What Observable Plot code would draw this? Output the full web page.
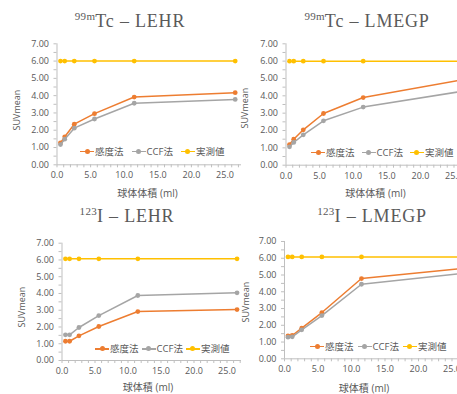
<!DOCTYPE html>
<html><head><meta charset="utf-8">
<script src="https://cdn.jsdelivr.net/npm/d3@7"></script>
<script src="https://cdn.jsdelivr.net/npm/@observablehq/plot@0.6"></script>
<style>
body{margin:0;background:#fff;}
#root{position:relative;width:457px;height:394px;overflow:hidden;background:#fff;font-family:"Open Sans","Noto Sans CJK JP",sans-serif;color:#595959;}
.clip{position:absolute;overflow:hidden;}
.clip svg{display:block;max-width:none !important;}
.title{position:absolute;font-family:"Liberation Serif","DejaVu Serif",serif;font-size:18px;line-height:18px;letter-spacing:0.8px;color:#5a5a5a;white-space:nowrap;transform:translateX(-50%);}
.title sup{font-size:11px;letter-spacing:0.3px;line-height:0;vertical-align:0;position:relative;top:-7px;}
.xt{position:absolute;font-size:10px;line-height:12px;transform:translate(-50%,-50%);white-space:nowrap;}
.yt{position:absolute;font-size:9px;line-height:10px;transform:translate(-50%,-50%) rotate(-90deg);white-space:nowrap;}
.leg{position:absolute;display:flex;align-items:center;font-size:9.5px;line-height:12px;white-space:nowrap;transform:translateY(-50%);font-family:"Open Sans","Noto Sans CJK JP",sans-serif;}
.m{display:inline-block;width:14px;height:1.5px;position:relative;margin-right:1px;}
.m i{position:absolute;left:4.5px;top:-1.8px;width:5px;height:5px;border-radius:50%;background:inherit;}
</style>
</head><body>
<div id="root"></div>
<script>
// ---- data ----
const volumes = [0.52, 1.15, 2.57, 5.58, 11.49, 26.52];
const seriesNames = ["感度法", "CCF法", "実測値"];
const seriesColors = ["#ED7D31", "#A5A5A5", "#FFC000"];
const xTicks = [0, 5, 10, 15, 20, 25];
const yTicks = [0, 1, 2, 3, 4, 5, 6, 7];

const tcLehrSens  = [1.27, 1.62, 2.35, 2.96, 3.92, 4.17];
const tcLehrCcf   = [1.17, 1.48, 2.12, 2.65, 3.56, 3.78];
const tcLehrMeas  = [6.00, 6.00, 6.00, 6.00, 6.00, 6.00];

const tcLmegpSens = [1.19, 1.50, 2.04, 2.98, 3.90, 4.95];
const tcLmegpCcf  = [1.06, 1.31, 1.75, 2.56, 3.35, 4.28];
const tcLmegpMeas = [6.00, 6.00, 6.00, 6.00, 6.00, 6.00];

const iLehrSens   = [1.15, 1.15, 1.47, 2.03, 2.92, 3.04];
const iLehrCcf    = [1.53, 1.53, 1.97, 2.68, 3.88, 4.04];
const iLehrMeas   = [6.07, 6.07, 6.07, 6.07, 6.07, 6.07];

const iLmegpSens  = [1.37, 1.39, 1.83, 2.76, 4.79, 5.39];
const iLmegpCcf   = [1.29, 1.31, 1.73, 2.58, 4.45, 5.10];
const iLmegpMeas  = [6.08, 6.08, 6.08, 6.08, 6.08, 6.08];

const titles = [
  {sup: "99m", main: "Tc – LEHR"},
  {sup: "99m", main: "Tc – LMEGP"},
  {sup: "123", main: "I – LEHR"},
  {sup: "123", main: "I – LMEGP"}
];
const xTitles = ["球体体積 (ml)", "球体体積 (ml)", "球体積 (ml)", "球体積 (ml)"];
const yTitle = "SUVmean";

// ---- layout ----
const root = document.getElementById("root");
const panels = [
  {values:[tcLehrSens, tcLehrCcf, tcLehrMeas], left:0, w:241, top:30, x0:56.5, ppu:6.72, y7:43.3, y0:164.3,
   title:[130,12], xt:[147.5,193], yt:[17,110], leg:[80,151.7], gap:8},
  {values:[tcLmegpSens, tcLmegpCcf, tcLmegpMeas], left:241, w:216, top:30, x0:285.5, ppu:6.72, y7:43.3, y0:164.7,
   title:[367,12], xt:[375.5,193], yt:[245,108], leg:[311,152.7], gap:7},
  {values:[iLehrSens, iLehrCcf, iLehrMeas], left:0, w:241, top:225, x0:61.5, ppu:6.6, y7:242.7, y0:360,
   title:[127,207], xt:[148,386.7], yt:[21.5,307], leg:[95,349], gap:3},
  {values:[iLmegpSens, iLmegpCcf, iLmegpMeas], left:241, w:216, top:225, x0:284, ppu:6.7, y7:241, y0:358.3,
   title:[372,207], xt:[364,388], yt:[246,302], leg:[310,346.7], gap:4}
];

const fontFam = '"Open Sans","Noto Sans CJK JP",sans-serif';

panels.forEach((p, k) => {
  const mt = p.y7 - p.top, ph = p.y0 - p.y7, ml = p.x0 - p.left, pw = 30 * p.ppu, mb = 24;
  const W = ml + pw + 10, H = mt + ph + mb;
  const marks = [
    Plot.axisX({ticks: d3.range(0, 31, 1), tickSize: 3, tickFormat: () => "", stroke: "#BFBFBF"}),
    Plot.axisX({ticks: xTicks, tickSize: 0, tickPadding: 7, tickFormat: d => d.toFixed(1), fill: "#595959"}),
    Plot.axisY({ticks: d3.range(0, 7.01, 0.5), tickSize: 3, tickFormat: () => "", stroke: "#BFBFBF"}),
    Plot.axisY({ticks: yTicks, tickSize: 0, tickPadding: 8, tickFormat: d => d.toFixed(2), fill: "#595959"}),
    Plot.ruleX([0], {stroke: "#BFBFBF", strokeWidth: 1}),
    Plot.ruleY([0], {stroke: "#BFBFBF", strokeWidth: 1})
  ];
  seriesNames.forEach((name, si) => {
    const rows = volumes.map((v, i) => ({v, y: p.values[si][i]}));
    marks.push(Plot.line(rows, {x: "v", y: "y", stroke: seriesColors[si], strokeWidth: 1.5}));
    marks.push(Plot.dot(rows, {x: "v", y: "y", fill: seriesColors[si], r: 2.4}));
  });
  const chart = Plot.plot({
    width: W, height: H,
    marginLeft: ml, marginRight: 10, marginTop: mt, marginBottom: mb,
    style: {fontFamily: fontFam, fontSize: "9px", background: "transparent", color: "#595959", maxWidth: "none"},
    x: {domain: [0, 30], label: null},
    y: {domain: [0, 7], label: null},
    marks
  });
  chart.style.maxWidth = "none";
  chart.style.width = W + "px";
  chart.style.height = H + "px";
  const clip = document.createElement("div");
  clip.className = "clip";
  clip.style.left = p.left + "px";
  clip.style.top = p.top + "px";
  clip.style.width = p.w + "px";
  clip.style.height = H + "px";
  clip.appendChild(chart);
  root.appendChild(clip);

  const t = document.createElement("div");
  t.className = "title";
  t.style.left = p.title[0] + "px"; t.style.top = p.title[1] + "px";
  t.innerHTML = `<sup>${titles[k].sup}</sup>${titles[k].main}`;
  root.appendChild(t);

  const xt = document.createElement("div");
  xt.className = "xt";
  xt.style.left = p.xt[0] + "px"; xt.style.top = p.xt[1] + "px";
  xt.textContent = xTitles[k];
  root.appendChild(xt);

  const yt = document.createElement("div");
  yt.className = "yt";
  yt.style.left = p.yt[0] + "px"; yt.style.top = p.yt[1] + "px";
  yt.textContent = yTitle;
  root.appendChild(yt);

  const leg = document.createElement("div");
  leg.className = "leg";
  leg.style.left = p.leg[0] + "px"; leg.style.top = p.leg[1] + "px";
  seriesNames.forEach((name, si) => {
    const m = document.createElement("span");
    m.className = "m"; m.style.background = seriesColors[si];
    m.appendChild(document.createElement("i"));
    const s = document.createElement("span");
    s.textContent = name;
    if (si < seriesNames.length - 1) s.style.marginRight = p.gap + "px";
    leg.appendChild(m); leg.appendChild(s);
  });
  root.appendChild(leg);
});
</script>
</body></html>
